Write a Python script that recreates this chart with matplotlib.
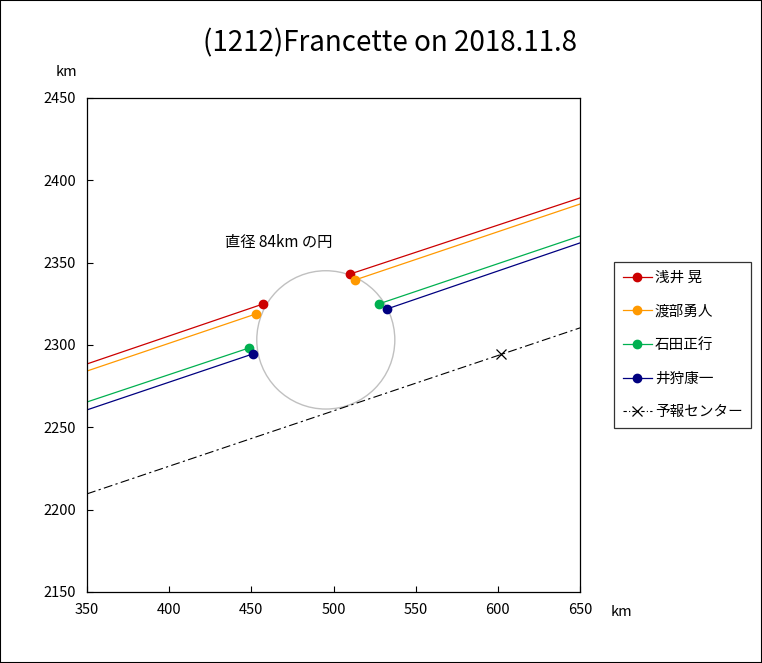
import matplotlib.pyplot as plt
from matplotlib.patches import Circle, Rectangle

plt.rcParams['font.family'] = ['Noto Sans CJK JP', 'DejaVu Sans']

# 観測者ごとの弦: 左端, 潜入点(D), 出現点(R), 右端
observers = ['浅井 晃', '渡部勇人', '石田正行', '井狩康一']
colors = ['#cc0000', '#ff9900', '#00b050', '#000080']
left_x = [350, 350, 350, 350]
left_y = [2288.5, 2284.2, 2265.4, 2260.6]
d_x = [457.1, 452.9, 448.6, 451.0]
d_y = [2324.9, 2318.9, 2298.2, 2294.6]
r_x = [510.1, 513.1, 527.7, 532.6]
r_y = [2343.1, 2339.5, 2325.0, 2321.9]
right_x = [650, 650, 650, 650]
right_y = [2389.3, 2385.6, 2366.2, 2362.0]

# 予報センター
center_line_x = [350, 650]
center_line_y = [2209.6, 2310.4]
center_pt_x = [602.0]
center_pt_y = [2294.6]

# 直径84kmの円
circle_x, circle_y, circle_d = 495.3, 2303.1, 84


def main():
    fig = plt.figure(figsize=(7.62, 6.63), dpi=100)
    ax = fig.add_axes([0.1142, 0.1071, 0.647, 0.7451])

    for name, c, lx, ly, dx, dy, rx, ry, ex, ey in zip(
            observers, colors, left_x, left_y, d_x, d_y,
            r_x, r_y, right_x, right_y):
        ax.plot([lx, dx], [ly, dy], color=c, lw=0.9, marker='o',
                markevery=[1], ms=6, label=name)
        ax.plot([rx, ex], [ry, ey], color=c, lw=0.9, marker='o',
                markevery=[0], ms=6)

    ax.plot(center_line_x, center_line_y, color='black', lw=0.8,
            ls=(0, (8, 3, 2, 3)))
    ax.plot(center_pt_x, center_pt_y, color='black', marker='x', ms=7,
            mew=0.9, ls='none')
    # 凡例用
    ax.plot([], [], color='black', lw=0.8, ls=(0, (3, 2, 1, 2)),
            marker='x', ms=7, mew=0.9, label='予報センター')

    ax.add_patch(Circle((circle_x, circle_y), circle_d / 2, fill=False,
                        ec='#c0c0c0', lw=1.0))
    ax.text(434, 2362, '直径 84km の円', fontsize=11, va='center',
            ha='left')

    ax.set_xlim(350, 650)
    ax.set_ylim(2150, 2450)
    ax.set_xticks(range(350, 651, 50))
    ax.set_yticks(range(2150, 2451, 50))
    ax.tick_params(direction='in', length=4, width=0.8, labelsize=10.5,
                   pad=8)
    for s in ax.spines.values():
        s.set_linewidth(0.9)

    fig.text(0.087, 0.892, 'km', fontsize=10.5, ha='center', va='center')
    fig.text(0.815, 0.077, 'km', fontsize=10.5, ha='center', va='center')
    fig.text(0.512, 0.934, '(1212)Francette on 2018.11.8', fontsize=20,
             ha='center', va='center')

    leg = ax.legend(loc='center left', bbox_to_anchor=(1.069, 0.5),
                    borderaxespad=0, fontsize=10.5, frameon=True,
                    fancybox=False, edgecolor='black', borderpad=0.6,
                    labelspacing=1.35, handlelength=2.0,
                    handletextpad=0.2)
    leg.get_frame().set_linewidth(0.9)

    fig.patches.append(Rectangle((0, 0), 1, 1, transform=fig.transFigure,
                                 fill=False, ec='black', lw=1.5))

    fig.savefig('out.png', dpi=100)


if __name__ == "__main__":
    main()
